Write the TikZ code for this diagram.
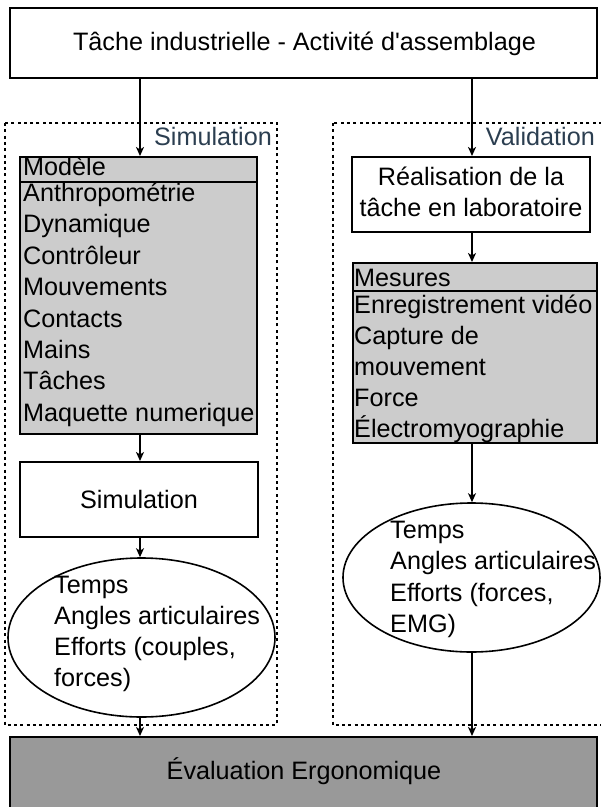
\documentclass[tikz,border=0pt]{standalone}
\usepackage{fontspec}
\setmainfont{Liberation Sans}
\usetikzlibrary{arrows.meta,shapes.geometric}

\definecolor{lightfill}{HTML}{CCCCCC}
\definecolor{darkfill}{HTML}{999999}
\definecolor{grouplabel}{HTML}{2B3E50}
% straight apostrophe, bypassing the TeX ligature mapping
\newcommand{\apos}{{\XeTeXglyph\XeTeXcharglyph"27\relax}}

\begin{document}
\begin{tikzpicture}[x=1pt,y=-1pt,
  txt/.style={font=\fontsize{25.2}{30}\selectfont, inner sep=0pt},
  box/.style={draw, line width=2pt, inner sep=0pt},
  grp/.style={draw, line width=1.6pt, dash pattern=on 3pt off 3.3pt},
  oval/.style={draw, ellipse, line width=1.6pt, inner sep=0pt},
  arr/.style={-{Stealth[length=9pt,width=8pt,inset=2.5pt]}, line width=1.6pt},
  grplabel/.style={txt, text=grouplabel, anchor=base east},
]
\useasboundingbox (0,0) rectangle (601,807);

% arrow columns
\coordinate (lx) at (140,0);
\coordinate (rx) at (472,0);

% dotted group frames
\draw[grp] (5,123) rectangle (277,725);
\draw[grp] (333,123) rectangle (612,725);
\node[grplabel] (simlabel) at (272,145) {Simulation};
\node[grplabel] (vallabel) at (595,145) {Validation};

% top task box
\node[box, minimum width=587pt, minimum height=70pt] (task) at (303.5,43) {};
\node[txt, anchor=base] (tasktxt) at (304.5,50) {Tâche industrielle - Activité d\apos assemblage};

% model box
\node[box, fill=lightfill, minimum width=237pt, minimum height=277pt] (model) at (138.5,295.5) {};
\draw[line width=2pt] (model.north west |- 0,182) coordinate (mh1) -- (model.north east |- 0,182) coordinate (mh2);
\node[txt, anchor=base west] (modelhead) at (23,175) {Modèle};
\foreach \t [count=\i from 0] in {Anthropométrie,Dynamique,Contrôleur,Mouvements,Contacts,Mains,Tâches,Maquette numerique}
  \node[txt, anchor=base west] (model\i) at (23,201.5+31.4*\i) {\t};

% simulation box
\node[box, minimum width=238pt, minimum height=75pt] (simbox) at (139,499.5) {};
\node[txt, anchor=base] (simtxt) at (139,508) {Simulation};

% simulation results
\node[oval, minimum width=267pt, minimum height=159pt] (simres) at (141.5,637.5) {};
\foreach \t [count=\i from 0] in {Temps,Angles articulaires,{Efforts (couples,},forces)}
  \node[txt, anchor=base west] (simres\i) at (54,593+31*\i) {\t};

% laboratory task box
\node[box, minimum width=238pt, minimum height=75pt] (lab) at (471,194.5) {};
\node[txt, anchor=base] (lab1) at (471,185) {Réalisation de la};
\node[txt, anchor=base] (lab2) at (471,216.5) {tâche en laboratoire};

% measures box
\node[box, fill=lightfill, minimum width=244pt, minimum height=180pt] (meas) at (475,353) {};
\draw[line width=2pt] (meas.north west |- 0,291) coordinate (mm1) -- (meas.north east |- 0,291) coordinate (mm2);
\node[txt, anchor=base west] (meashead) at (354,286.5) {Mesures};
\foreach \t [count=\i from 0] in {Enregistrement vidéo,Capture de,mouvement,Force,Électromyographie}
  \node[txt, anchor=base west] (meas\i) at (354,313+31*\i) {\t};

% validation results
\node[oval, minimum width=257pt, minimum height=149pt] (valres) at (471.5,577.5) {};
\foreach \t [count=\i from 0] in {Temps,Angles articulaires,{Efforts (forces,},EMG)}
  \node[txt, anchor=base west] (valres\i) at (390,538+31.5*\i) {\t};

% ergonomic evaluation
\node[box, fill=darkfill, minimum width=587pt, minimum height=90pt] (eval) at (303.5,782) {};
\node[txt, anchor=base] (evaltxt) at (304,779) {Évaluation Ergonomique};

% connectors
\draw[arr] (task.south -| lx) -- (model.north -| lx);
\draw[arr] (model.south -| lx) -- (simbox.north -| lx);
\draw[arr] (simbox.south -| lx) -- (simres.north -| lx);
\draw[arr] (simres.south -| lx) -- (eval.north -| lx);
\draw[arr] (task.south -| rx) -- (lab.north -| rx);
\draw[arr] (lab.south -| rx) -- (meas.north -| rx);
\draw[arr] (meas.south -| rx) -- (valres.north -| rx);
\draw[arr] (valres.south -| rx) -- (eval.north -| rx);
\end{tikzpicture}
\end{document}
